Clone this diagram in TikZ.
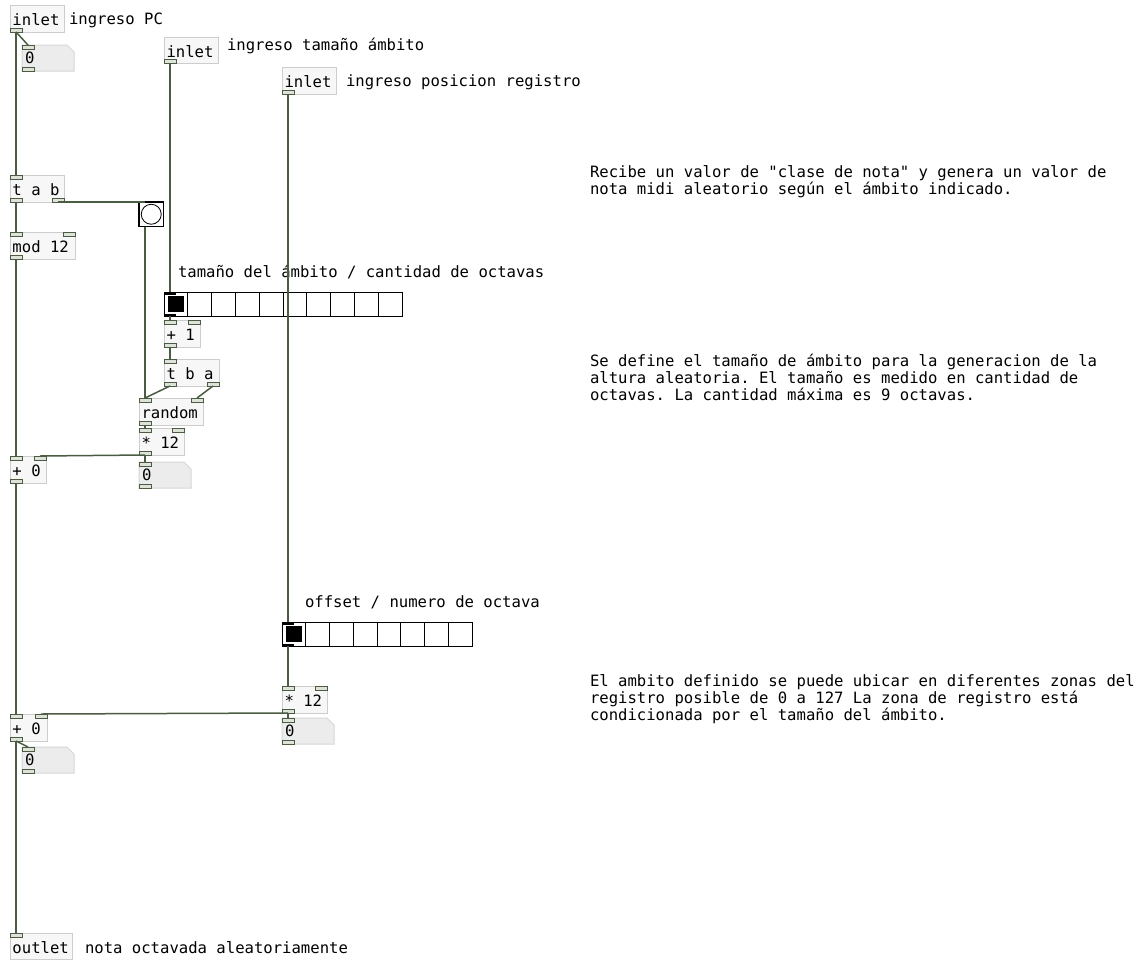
\documentclass[tikz,border=0pt]{standalone}
\usepackage{fontspec}
\newfontfamily\pdfont{DejaVu Sans Mono}
\usetikzlibrary{calc}
\frenchspacing
\definecolor{cordcol}{RGB}{74,92,66}
\definecolor{boxfill}{RGB}{247,247,247}
\definecolor{boxline}{RGB}{205,205,205}
\definecolor{numfill}{RGB}{236,236,236}
\definecolor{numline}{RGB}{215,215,215}
\definecolor{nubfill}{RGB}{222,226,218}
\tikzset{
  every node/.style={font=\pdfont\fontsize{15.6}{17}\selectfont, inner sep=0pt, outer sep=0pt},
  txt/.style={anchor=base west, text=black},
  objbox/.style={draw=boxline, fill=boxfill, line width=1pt, rectangle, anchor=north west},
  numst/.style={draw=numline, fill=numfill, line width=1pt},
  nubst/.style={draw=cordcol, fill=nubfill, line width=0.9pt},
  cord/.style={draw=cordcol, line width=1.5pt},
  radio/.style={draw=black, fill=white, line width=1pt, rectangle, anchor=north west},
  radiocell/.style={draw=black, line width=1pt},
  bangbox/.style={draw=black, fill=white, line width=1.6pt, rectangle, anchor=north west, minimum width=24.5pt, minimum height=24.5pt}
}
\newcommand\pdobj[6]{%
  \node[objbox, minimum width=#4pt, minimum height=#5pt] (#1) at (#2,#3) {};
  \node[txt] (#1-t) at ($(#1.north west)+(2.5,20)$) {#6};
  \coordinate (#1-il) at ($(#1.north west)+(6,0)$);
  \coordinate (#1-ir) at ($(#1.north east)+(-6,0)$);
  \coordinate (#1-ol) at ($(#1.south west)+(6,0)$);
  \coordinate (#1-or) at ($(#1.south east)+(-6,0)$);
}
\newcommand\nubtop[1]{\draw[nubst] ($(#1)+(-6,0)$) rectangle ($(#1)+(6,4)$);}
\newcommand\nubbot[1]{\draw[nubst] ($(#1)+(-6,0)$) rectangle ($(#1)+(6,-4)$);}
\newcommand\pdnum[3]{%
  \node[rectangle, minimum width=52pt, minimum height=26pt, anchor=north west] (#1) at (#2,#3) {};
  \draw[numst] (#1.north west) -- ($(#1.north east)+(-7,0)$) -- ($(#1.north east)+(0,7)$) -- (#1.south east) -- (#1.south west) -- cycle;
  \node[txt] (#1-t) at ($(#1.north west)+(3,18)$) {0};
  \coordinate (#1-il) at ($(#1.north west)+(6,0)$);
  \coordinate (#1-ol) at ($(#1.south west)+(6,0)$);
  \nubtop{#1-il}\nubbot{#1-ol}
}
\begin{document}
\begin{tikzpicture}[x=1pt,y=-1pt]
\fill[white] (0,0) rectangle (1148,961);
\useasboundingbox (0,0) rectangle (1148,961);

% inlets
\pdobj{in1}{10}{5}{54}{27}{inlet}
\nubbot{in1-ol}
\node[txt] (lab1) at (69,24) {ingreso PC};
\pdnum{n1}{22}{45}

\pdobj{in2}{164}{37}{54}{26}{inlet}
\nubbot{in2-ol}
\node[txt] (lab2) at (227,50) {ingreso tamaño ámbito};

\pdobj{in3}{282}{67}{54}{27}{inlet}
\nubbot{in3-ol}
\node[txt] (lab3) at (346,86) {ingreso posicion registro};

% t a b, bang, mod
\pdobj{tab}{10}{175}{54}{27}{t a b}
\nubtop{tab-il}\nubbot{tab-ol}\nubbot{tab-or}

\node[bangbox] (bang) at (139,202) {};
\draw[line width=0.8pt] (bang.center) circle (10pt);
\coordinate (bang-il) at ($(bang.north west)+(6,0)$);
\coordinate (bang-ol) at ($(bang.south west)+(6,0)$);

\pdobj{mod}{10}{232}{65}{27}{mod 12}
\nubtop{mod-il}\nubtop{mod-ir}\nubbot{mod-ol}

% radio 1
\node[txt] (lab4) at (178,277) {tamaño del ámbito / cantidad de octavas};
\node[radio, minimum width=238pt, minimum height=24pt] (hr1) at (164,292) {};
\foreach \i in {1,...,9}
  \draw[radiocell] ($(hr1.north west)+(\i*23.8,0)$) -- ($(hr1.south west)+(\i*23.8,0)$);
\fill[black] ($(hr1.north west)+(4,4)$) rectangle ($(hr1.north west)+(20,20)$);
\coordinate (hr1-il) at ($(hr1.north west)+(6,0)$);
\coordinate (hr1-ol) at ($(hr1.south west)+(6,0)$);
\fill[black] ($(hr1-il)+(-6,0)$) rectangle ($(hr1-il)+(6,2.5)$);
\fill[black] ($(hr1-ol)+(-6,0)$) rectangle ($(hr1-ol)+(6,-2.5)$);

\pdobj{p1}{164}{320}{36}{27}{+ 1}
\nubtop{p1-il}\nubtop{p1-ir}\nubbot{p1-ol}

\pdobj{tba}{164}{359}{55}{27}{t b a}
\nubtop{tba-il}\nubbot{tba-ol}\nubbot{tba-or}

\pdobj{rnd}{139}{398}{64}{27}{random}
\nubtop{rnd-il}\nubtop{rnd-ir}\nubbot{rnd-ol}

\pdobj{m1}{139}{428}{45}{27}{* 12}
\nubtop{m1-il}\nubtop{m1-ir}\nubbot{m1-ol}

\pdobj{a1}{10}{456}{36}{27}{+ 0}
\nubtop{a1-il}\nubtop{a1-ir}\nubbot{a1-ol}

\pdnum{n2}{139}{462}

% radio 2
\node[txt] (lab5) at (305,607) {offset / numero de octava};
\node[radio, minimum width=190pt, minimum height=24pt] (hr2) at (282,622) {};
\foreach \i in {1,...,7}
  \draw[radiocell] ($(hr2.north west)+(\i*23.75,0)$) -- ($(hr2.south west)+(\i*23.75,0)$);
\fill[black] ($(hr2.north west)+(4,4)$) rectangle ($(hr2.north west)+(20,20)$);
\coordinate (hr2-il) at ($(hr2.north west)+(6,0)$);
\coordinate (hr2-ol) at ($(hr2.south west)+(6,0)$);
\fill[black] ($(hr2-il)+(-6,0)$) rectangle ($(hr2-il)+(6,2.5)$);
\fill[black] ($(hr2-ol)+(-6,0)$) rectangle ($(hr2-ol)+(6,-2.5)$);

\pdobj{m2}{282}{686}{45}{27}{* 12}
\nubtop{m2-il}\nubtop{m2-ir}\nubbot{m2-ol}

\pdobj{a2}{10}{714}{37}{27}{+ 0}
\nubtop{a2-il}\nubtop{a2-ir}\nubbot{a2-ol}

\pdnum{n3}{282}{718}
\pdnum{n4}{22}{747}

\pdobj{out}{10}{933}{62}{26}{outlet}
\nubtop{out-il}
\node[txt] (lab6) at (85,953) {nota octavada aleatoriamente};

% comments
\node[txt] (c1a) at (590,177) {Recibe un valor de "clase de nota" y genera un valor de};
\node[txt] (c1b) at (590,194) {nota midi aleatorio según el ámbito indicado.};
\node[txt] (c2a) at (590,366) {Se define el tamaño de ámbito para la generacion de la};
\node[txt] (c2b) at (590,383) {altura aleatoria. El tamaño es medido en cantidad de};
\node[txt] (c2c) at (590,400) {octavas. La cantidad máxima es 9 octavas.};
\node[txt] (c3a) at (590,686) {El ambito definido se puede ubicar en diferentes zonas del};
\node[txt] (c3b) at (590,703) {registro posible de 0 a 127 La zona de registro está};
\node[txt] (c3c) at (590,720) {condicionada por el tamaño del ámbito.};

% cords
\draw[cord] (in1-ol) -- (tab-il);
\draw[cord] (in1-ol) -- (n1-il);
\draw[cord] (tab-ol) -- (mod-il);
\draw[cord] (tab-or) -- (bang-il);
\draw[cord] (bang-ol) -- (rnd-il);
\draw[cord] (mod-ol) -- (a1-il);
\draw[cord] (in2-ol) -- (hr1-il);
\draw[cord] (hr1-ol) -- (p1-il);
\draw[cord] (p1-ol) -- (tba-il);
\draw[cord] (tba-ol) -- (rnd-il);
\draw[cord] (tba-or) -- (rnd-ir);
\draw[cord] (rnd-ol) -- (m1-il);
\draw[cord] (m1-ol) -- (a1-ir);
\draw[cord] (m1-ol) -- (n2-il);
\draw[cord] (a1-ol) -- (a2-il);
\draw[cord] (in3-ol) -- (hr2-il);
\draw[cord] (hr2-ol) -- (m2-il);
\draw[cord] (m2-ol) -- (a2-ir);
\draw[cord] (m2-ol) -- (n3-il);
\draw[cord] (a2-ol) -- (out-il);
\draw[cord] (a2-ol) -- (n4-il);
\end{tikzpicture}
\end{document}
